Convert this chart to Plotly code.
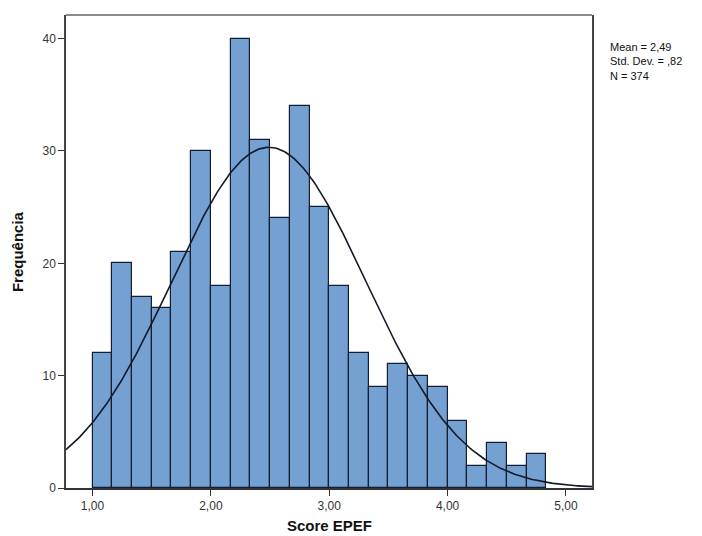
import numpy as np
import plotly.graph_objects as go

# Histogram counts (bins of width 1/6 starting at 1.00)
counts = [12, 20, 17, 16, 21, 30, 18, 40, 31, 24, 34, 25, 18, 12, 9, 11, 10, 9, 6, 2, 4, 2, 3]
bin_start = 1.0
bin_width = 1.0 / 6.0
mean_val = 2.49
sd_val = 0.82
n_val = 374
x_tick_vals = [1, 2, 3, 4, 5]
x_tick_text = ["1,00", "2,00", "3,00", "4,00", "5,00"]
y_tick_vals = [0, 10, 20, 30, 40]

centers = [bin_start + bin_width * (i + 0.5) for i in range(len(counts))]

x_min, x_max = 0.776, 5.22
xc = np.linspace(x_min, x_max, 300)
yc = n_val * bin_width / (sd_val * np.sqrt(2 * np.pi)) * np.exp(-0.5 * ((xc - mean_val) / sd_val) ** 2)

fig = go.Figure()
fig.add_trace(go.Bar(
    x=centers, y=counts, width=bin_width,
    marker=dict(color="rgb(116,160,210)", line=dict(color="rgb(20,30,50)", width=1.2)),
    showlegend=False,
))
fig.add_trace(go.Scatter(
    x=xc, y=yc, mode="lines",
    line=dict(color="rgb(20,25,40)", width=1.6),
    showlegend=False,
))

fig.update_layout(
    width=702, height=536,
    margin=dict(l=66, r=110, t=15, b=48),
    paper_bgcolor="white", plot_bgcolor="white",
    bargap=0,
    font=dict(family="Arial, Liberation Sans, sans-serif", color="#333333", size=12),
    xaxis=dict(
        range=[x_min, x_max], tickvals=x_tick_vals, ticktext=x_tick_text,
        ticks="outside", ticklen=6, tickcolor="#333", showgrid=False, zeroline=False,
        showline=True, linecolor="#333", linewidth=1.5, mirror=False, automargin=False,
        tickfont=dict(size=12, color="#333"),
    ),
    yaxis=dict(
        range=[0, 42.1], tickvals=y_tick_vals,
        ticks="outside", ticklen=6, tickcolor="#333", showgrid=False, zeroline=False,
        showline=True, linecolor="#444", linewidth=1.5, mirror=True, automargin=False,
        tickfont=dict(size=12, color="#333"),
    ),
    shapes=[dict(
        type="line", xref="paper", yref="paper", x0=0, x1=1, y0=1, y1=1,
        line=dict(color="#8a8a8a", width=2),
    )],
    annotations=[
        dict(
            xref="paper", yref="paper", x=1.03, y=0.95, xanchor="left", yanchor="top",
            text=f"Mean = {str(mean_val).replace('.', ',')}<br>Std. Dev. = ,{str(sd_val).split('.')[1]}<br>N = {n_val}",
            showarrow=False, align="left", font=dict(size=11, color="#111"),
        ),
        dict(
            xref="paper", yref="paper", x=0.5, y=-0.08, xanchor="center", yanchor="middle",
            text="<b>Score EPEF</b>", showarrow=False, font=dict(size=15, color="#111"),
        ),
        dict(
            xref="paper", yref="paper", x=-0.092, y=0.5, xanchor="center", yanchor="middle",
            text="<b>Frequência</b>", textangle=-90, showarrow=False, font=dict(size=15, color="#111"),
        ),
    ],
)

fig.write_html("out.html", post_script="document.body.style.margin='0';",
               config={"displayModeBar": False})
